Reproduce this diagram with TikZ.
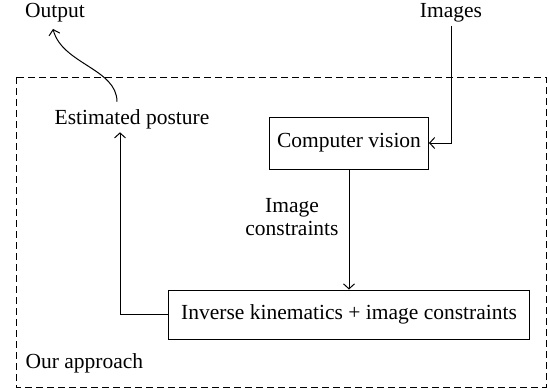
\documentclass[tikz,border=0pt]{standalone}
\usepackage{fontspec}
\setmainfont{Liberation Serif}
\usetikzlibrary{arrows.meta}
\begin{document}
\begin{tikzpicture}[x=1pt,y=-1pt,
  every node/.style={font=\fontsize{21.5}{25}\selectfont},
  blk/.style={draw,line width=1pt,inner sep=0pt},
  arr/.style={line width=1pt,-{Straight Barb[length=5pt,width=11pt,line width=1pt]}},
  frame/.style={draw,line width=1pt,dash pattern=on 7pt off 4pt}]
\useasboundingbox (0,0) rectangle (548,389);
\draw[frame] (16,77) rectangle (546,387);
\node (out) at (55,13) {Output};
\node (img) at (451,13) {Images};
\node (est) at (132,119) {Estimated posture};
\node[blk,minimum width=159pt,minimum height=52pt] (cv) at (349,143) {Computer vision};
\node[blk,minimum width=361pt,minimum height=49pt] (ik) at (349,314.5) {Inverse kinematics + image constraints};
\node[align=center,font=\fontsize{21.5}{23}\selectfont] (lab) at (292,217) {Image\\constraints};
\node[anchor=west] (app) at (22,363) {Our approach};
\draw[arr] (img.south) -- (img.south |- cv.east) -- (cv.east);
\draw[arr] (cv.south) -- (cv.south |- ik.north);
\coordinate (estin) at ([xshift=-12pt]est.south);
\draw[arr] (ik.west) -| (estin);
\coordinate (estout) at ([xshift=-15pt,yshift=4pt]est.north);
\coordinate (outin) at ([xshift=-2pt,yshift=-3pt]out.south);
\draw[arr] (estout) .. controls ([yshift=33pt]estout) and (62,64) .. (outin);
\end{tikzpicture}
\end{document}
